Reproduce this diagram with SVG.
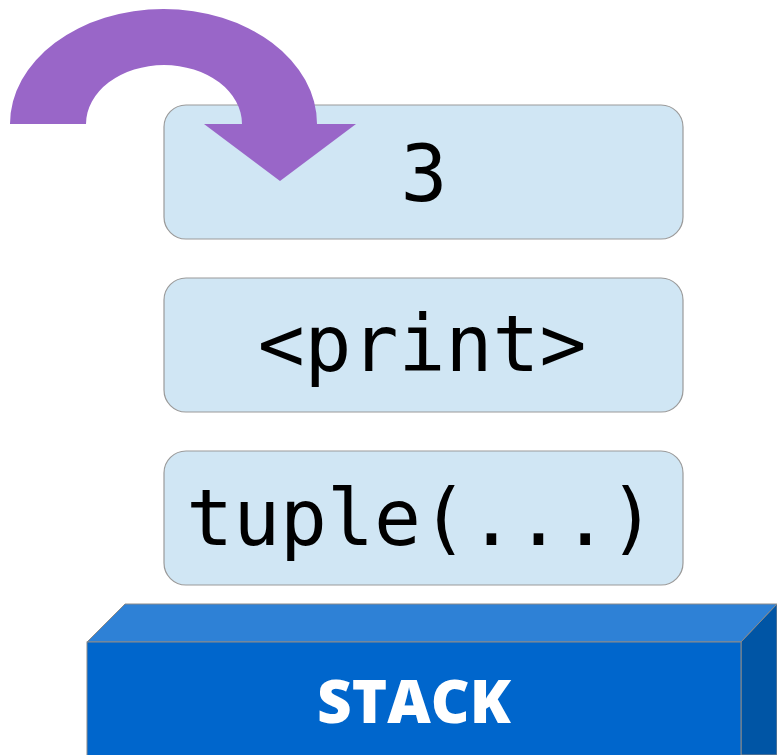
<svg xmlns="http://www.w3.org/2000/svg" width="777" height="755" viewBox="0 0 777 755">
  <style>
    .cell { fill: #d0e6f4; stroke: #9a9a9a; stroke-width: 1.2; }
    .code { font-family: "DejaVu Sans Mono", "Liberation Mono", monospace; font-size: 78px; fill: #000; text-anchor: middle; }
    .label { font-family: "Open Sans", "Liberation Sans", sans-serif; font-weight: 800; font-size: 60px; fill: #fff; text-anchor: middle; }
  </style>
  <rect width="777" height="755" fill="#fff"/>

  <!-- stack base (3D block) -->
  <g id="stack">
    <polygon points="87,642 125,604 777,604 741,642" fill="#2e81d6" stroke="#8a8a8a" stroke-width="1"/>
    <polygon points="741,642 777,604 777,755 741,755" fill="#0055a5" stroke="#8a8a8a" stroke-width="1"/>
    <rect x="87" y="642" width="654" height="114" fill="#0066cc" stroke="#8a8a8a" stroke-width="1"/>
    <text class="label" x="414" y="723">STACK</text>
  </g>

  <!-- stack entries -->
  <g id="entry-tuple">
    <rect class="cell" x="164" y="451" width="519" height="134" rx="22"/>
    <text class="code" x="421" y="545">tuple(...)</text>
  </g>
  <g id="entry-print">
    <rect class="cell" x="164" y="278" width="519" height="134" rx="22"/>
    <text class="code" x="422" y="371">&lt;print&gt;</text>
  </g>
  <g id="entry-3">
    <rect class="cell" x="164" y="105" width="519" height="134" rx="22"/>
    <text class="code" x="424" y="201">3</text>
  </g>

  <!-- curved push arrow -->
  <g id="connectors">
    <path d="M10,124 A153.5,115 0 0 1 317,124 L356,124 L280,181 L204,124 L242,124 A78,59 0 0 0 86,124 Z" fill="#9966c8"/>
  </g>
</svg>
